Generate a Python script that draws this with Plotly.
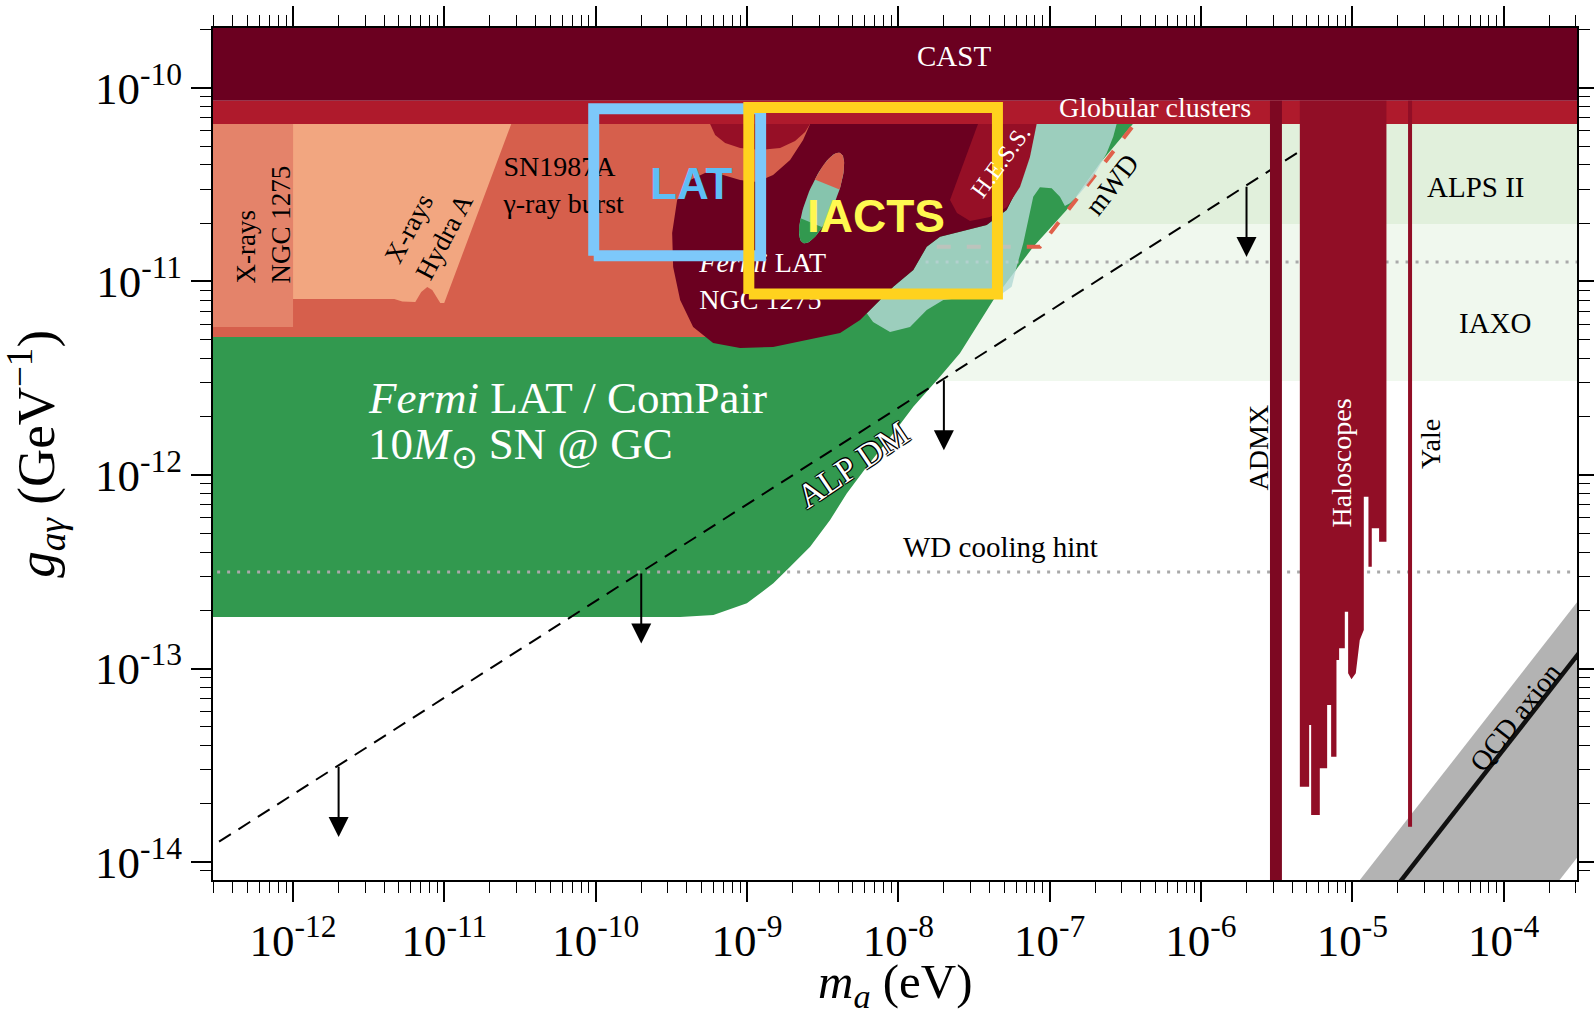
import numpy as np
import plotly.graph_objects as go

# ---------------------------------------------------------------------------
# Axis extent in decades: log10(m_a / eV) and log10(g_agamma / GeV^-1)
# ---------------------------------------------------------------------------
X_RANGE = [-12.529, -3.515]
Y_RANGE = [-14.093, -9.690]

X_DECADES = list(range(-12, -3))
Y_DECADES = list(range(-14, -9))

# ---------------------------------------------------------------------------
# Regions, all given as log10 values (mass, coupling)
# ---------------------------------------------------------------------------
FULL_LM = [-13.0, -3.0]
CAST_LG = [-10.066, -9.4]
GC_LG = [-10.186, -10.066]

SN1987A_LM = [-12.7, -8.58]
SN1987A_LG = [-11.287, -10.186]

XRAY_NGC1275_LM = [-12.7, -12.0]
XRAY_NGC1275_LG = [-11.235, -10.186]

HYDRA_LM = [-12.0, -10.558, -11.001, -11.027, -11.080, -11.113, -11.153,
            -11.192, -11.278, -11.331, -12.0]
HYDRA_LG = [-10.186, -10.186, -11.111, -11.111, -11.044, -11.028, -11.054,
            -11.106, -11.104, -11.090, -11.090]

ALPS_LM = [-8.0, -3.3]
ALPS_LG = [-10.703, -10.186]
IAXO_LM = [-8.6, -3.3]
IAXO_LG = [-11.514, -10.703]

# Fermi LAT / ComPair reach for a 10 M_sun supernova at the Galactic centre
COMPAIR_LM = [-12.7, -6.450, -6.668, -6.888, -7.108, -7.372, -7.593, -7.725,
              -7.901, -8.033, -8.209, -8.341, -8.451, -8.583, -8.715, -8.826,
              -9.001, -9.222, -9.442, -12.7]
COMPAIR_LG = [-10.186, -10.186, -10.389, -10.630, -10.820, -11.096, -11.371,
              -11.492, -11.647, -11.784, -11.957, -12.095, -12.233, -12.371,
              -12.474, -12.560, -12.663, -12.723, -12.734, -12.734]

# IACT projection (light teal)
TEAL_LM = [-7.0971, -6.5575, -6.5799, -6.6236, -6.7120, -6.7999, -6.8659,
           -6.8990, -6.9320, -6.9868, -7.0641, -7.1083, -7.1413, -7.1744,
           -7.2180, -7.2510, -7.3085, -7.5264, -7.7028, -7.8124, -7.9227,
           -8.0548, -8.1671, -8.2087, -8.0330, -7.9009, -7.8124, -7.7246,
           -7.5925, -7.4161, -7.2840, -7.1962, -7.1301, -7.0971]
TEAL_LG = [-10.186, -10.186, -10.2517, -10.3375, -10.4584, -10.5442,
           -10.5959, -10.6098, -10.5618, -10.5183, -10.5132, -10.5618,
           -10.6822, -10.8026, -10.9235, -11.0269, -11.0594, -11.0801,
           -11.0956, -11.1473, -11.2351, -11.2610, -11.2093, -11.1643,
           -11.0269, -10.9406, -10.8202, -10.7685, -10.7426, -10.7080,
           -10.6305, -10.4910, -10.3204, -10.186]

# Fermi LAT NGC 1275 exclusion
NGC1275_LM = [-8.5832, -7.0971, -7.1301, -7.1962, -7.2840, -7.4161, -7.5925,
              -7.7246, -7.8124, -7.9009, -8.0330, -8.2087, -8.2527, -8.3848,
              -8.6028, -8.8276, -9.0456, -9.2239, -9.3560, -9.4419, -9.4881,
              -9.4947, -9.4617, -9.3758, -9.2635, -9.1579, -9.0456, -8.9333,
              -8.8276, -8.7153, -8.6295, -8.5832]
NGC1275_LG = [-10.186, -10.186, -10.3204, -10.4910, -10.6305, -10.7080,
              -10.7426, -10.7685, -10.8202, -10.9406, -11.0269, -11.1643,
              -11.1990, -11.2661, -11.3023, -11.3385, -11.3437, -11.3178,
              -11.2351, -11.0956, -10.9251, -10.7494, -10.5788, -10.4755,
              -10.4341, -10.4496, -10.4755, -10.4858, -10.4496, -10.3721,
              -10.2687, -10.186]

# H.E.S.S. PKS 2155 exclusion
HESS_LM = [-7.4737, -7.0859, -7.1301, -7.1962, -7.2820, -7.3943, -7.5264,
           -7.6123, -7.6585, -7.4737]
HESS_LG = [-10.186, -10.186, -10.3566, -10.5116, -10.6150, -10.6667,
           -10.6873, -10.6460, -10.5788, -10.186]

# Small lobe below the globular-cluster bound
LOBE_LM = [-9.2437, -9.2107, -9.1447, -9.0456, -8.9135, -8.7814, -8.6823,
           -8.6163, -8.5832]
LOBE_LG = [-10.186, -10.2429, -10.2842, -10.3101, -10.3204, -10.3101,
           -10.2739, -10.2274, -10.186]

# Island inside the NGC 1275 region: centre and half-axes (log10 units)
ISLAND_CENTER = (-8.507, -10.5685)
ISLAND_MAJOR = (0.122, 0.2325)
ISLAND_MINOR = (0.0856, -0.0276)

# Magnetic white dwarf polarisation bound
MWD_LM = [-7.746, -7.064, -6.44]
MWD_LG = [-10.820, -10.820, -10.186]

# ALP dark-matter line and the masses where its arrows sit
ALPDM_LM = [-12.489, -5.339]
ALPDM_LG = [-13.895, -10.323]
ARROW_LM = [-11.699, -9.699, -7.699, -5.699]

# White-dwarf cooling hints
WD_HINT_LG = -12.501
WD_HINT_LM = [-12.7, -3.3]
UPPER_HINT_LG = -10.899
UPPER_HINT_LM = [-7.82, -3.3]

# Laboratory searches
ADMX_LM = [-5.544, -5.465]
ADMX_LG = [-14.5, -10.066]
YALE_LM = [-4.6315, -4.6051]
YALE_LG = [-13.818, -10.066]
HALO_LM = [-5.3467, -5.3467, -5.2851, -5.2851, -5.2719, -5.2719, -5.2147,
           -5.2147, -5.1662, -5.1662, -5.1398, -5.1398, -5.1046, -5.1046,
           -5.0870, -5.0870, -5.0495, -5.0495, -5.0275, -5.0275, -5.0055,
           -4.9769, -4.9505, -4.9240, -4.9240, -4.8932, -4.8932, -4.8712,
           -4.8712, -4.8228, -4.8228, -4.7743, -4.7743]
HALO_LG = [-10.066, -13.6107, -13.6107, -13.2920, -13.2920, -13.7571,
           -13.7571, -13.5159, -13.5159, -13.1886, -13.1886, -13.4556,
           -13.4556, -12.9561, -12.9561, -12.8958, -12.8958, -12.7063,
           -12.7063, -13.0250, -13.0560, -13.0250, -12.8527, -12.8010,
           -12.1120, -12.1120, -12.4737, -12.4737, -12.2756, -12.2756,
           -12.3445, -12.3445, -10.066]

# QCD axion band and benchmark line
QCD_BAND_LM = [-5.0, -3.3, -3.3, -5.0]
QCD_BAND_LG = [-14.143, -12.443, -13.763, -15.463]
QCD_LINE_LM = [-4.9, -3.3]
QCD_LINE_LG = [-14.318, -12.718]

# Highlight boxes
LAT_BOX_LM = [-10.013, -8.910]
LAT_BOX_LG = [-10.867, -10.107]
IACT_BOX_LM = [-8.988, -7.345]
IACT_BOX_LG = [-11.064, -10.101]

# ---------------------------------------------------------------------------
SERIF = "Liberation Serif"
SANS = "Liberation Sans"

C_CAST = "#6b0020"
C_GC = "#af1a2c"
C_SN = "#d65f4c"
C_XNGC = "#e4836a"
C_HYDRA = "#f2a680"
C_GREEN = "#32994f"
C_TEAL = "#b3d9d5"
C_BLOB = "#6b0020"
C_HESS = "#960f26"
C_HALO = "#910e26"
C_ADMX = "#7d0822"
C_ALPS = "#e1f0dc"
C_IAXO = "#f0f8ee"
C_QCD = "#b3b3b3"


def rect(lm, lg):
    return ([lm[0], lm[1], lm[1], lm[0], lm[0]],
            [lg[0], lg[0], lg[1], lg[1], lg[0]])


fig = go.Figure()


def area(lm, lg, color, opacity=1.0):
    fig.add_trace(go.Scatter(
        x=10.0 ** np.asarray(lm, float), y=10.0 ** np.asarray(lg, float),
        mode="lines", fill="toself", fillcolor=color, opacity=opacity,
        line=dict(width=0, color=color), hoverinfo="skip", showlegend=False))


def curve(lm, lg, color, width, dash="solid"):
    fig.add_trace(go.Scatter(
        x=10.0 ** np.asarray(lm, float), y=10.0 ** np.asarray(lg, float),
        mode="lines", line=dict(color=color, width=width, dash=dash),
        hoverinfo="skip", showlegend=False))


# Background bands for helioscope reach
area(*rect(IAXO_LM, IAXO_LG), C_IAXO)
area(*rect(ALPS_LM, ALPS_LG), C_ALPS)

# Fermi LAT / ComPair projection
area(COMPAIR_LM, COMPAIR_LG, C_GREEN)
curve(WD_HINT_LM, [WD_HINT_LG] * 2, "#a9a9a9", 3, "3px,7px")

# Astrophysical bounds
area(*rect(FULL_LM, CAST_LG), C_CAST)
area(*rect(FULL_LM, GC_LG), C_GC)
area(*rect(SN1987A_LM, SN1987A_LG), C_SN)
area(*rect(XRAY_NGC1275_LM, XRAY_NGC1275_LG), C_XNGC)
area(HYDRA_LM, HYDRA_LG, C_HYDRA)

curve(MWD_LM, MWD_LG, "#e0604a", 4, "14px,16px")
curve(UPPER_HINT_LM, [UPPER_HINT_LG] * 2, "#a9a9a9", 3, "3px,7px")

area(TEAL_LM, TEAL_LG, C_TEAL, opacity=0.82)
area(NGC1275_LM, NGC1275_LG, C_BLOB)
area(LOBE_LM, LOBE_LG, C_HESS)
area(HESS_LM, HESS_LG, C_HESS)

# Island inside the NGC 1275 region
t = np.linspace(0, 2 * np.pi, 90)
cx, cy = ISLAND_CENTER
ax_, ay_ = ISLAND_MAJOR
bx_, by_ = ISLAND_MINOR
area(cx + np.cos(t) * ax_ + np.sin(t) * bx_,
     cy + np.cos(t) * ay_ + np.sin(t) * by_, "#86c4ad")
a1 = np.arccos(0.30)
tt = np.linspace(-a1, a1, 40)
area(cx + np.cos(tt) * ax_ + np.sin(tt) * bx_,
     cy + np.cos(tt) * ay_ + np.sin(tt) * by_, C_SN)
a2 = np.arccos(0.55)
tt = np.linspace(np.pi - a2, np.pi + a2, 40)
area(cx + np.cos(tt) * ax_ + np.sin(tt) * bx_,
     cy + np.cos(tt) * ay_ + np.sin(tt) * by_, C_GREEN)

# ALP dark matter line
curve(ALPDM_LM, ALPDM_LG, "black", 2, "14px,9px")

# QCD axion band and line
area(QCD_BAND_LM, QCD_BAND_LG, C_QCD)
curve(QCD_LINE_LM, QCD_LINE_LG, "#111111", 4.5)

# Haloscopes
area(*rect(ADMX_LM, ADMX_LG), C_ADMX)
area(HALO_LM, HALO_LG, C_HALO)
area(*rect(YALE_LM, YALE_LG), C_HALO)

# Labels that sit beneath the highlight boxes
fig.add_trace(go.Scatter(
    x=[10.0 ** -10.61], y=[10.0 ** -10.514], mode="text",
    text=["SN1987A<br>γ-ray burst"], textposition="middle right",
    textfont=dict(family=SERIF, size=28, color="black"),
    hoverinfo="skip", showlegend=False))
fig.add_trace(go.Scatter(
    x=[10.0 ** -9.315], y=[10.0 ** -11.010], mode="text",
    text=["<i>Fermi</i> LAT<br>NGC 1275"], textposition="middle right",
    textfont=dict(family=SERIF, size=28, color="white"),
    hoverinfo="skip", showlegend=False))

# Highlight boxes
curve(*rect(LAT_BOX_LM, LAT_BOX_LG), "#7dc8fa", 11)
curve(*rect(IACT_BOX_LM, IACT_BOX_LG), "#ffd21e", 11)

# Empty trace that carries the top / right frame axes
fig.add_trace(go.Scatter(x=[], y=[], xaxis="x2", yaxis="y2",
                         hoverinfo="skip", showlegend=False))

annotations = []


def label(text, lm, lg, size=28, color="black", angle=0, family=SERIF,
          xanchor="center", align="center", shadow=None):
    font = dict(family=family, size=size, color=color)
    if shadow:
        font["shadow"] = shadow
    annotations.append(dict(
        x=lm, y=lg, xref="x", yref="y", text=text, showarrow=False,
        textangle=angle, font=font, xanchor=xanchor, yanchor="middle",
        align=align))


label("CAST", -7.635, -9.834, 29, "white")
label("Globular clusters", -6.305, -10.102, 28, "white")
label("X-rays<br>NGC 1275", -12.196, -10.703, 27, "black", -90, align="left")
label("X-rays<br>Hydra A", -11.106, -10.724, 27, "black", -62, align="left")
label("H.E.S.S.", -7.322, -10.377, 24, "white", -54)
label("mWD", -6.589, -10.501, 28, "black", -52)
label("ALPS II", -4.184, -10.512, 29)
label("IAXO", -4.052, -11.215, 29)
label("<i>Fermi</i> LAT / ComPair", -11.515, -11.600, 45, "white",
      xanchor="left", align="left")
label("10<i>M</i><sub>⊙</sub> SN @ GC", -11.515, -11.855, 45, "white",
      xanchor="left", align="left")
label("ALP DM", -8.298, -11.948, 34, "white", -34,
      shadow="1px 1px 0 #000, -1px -1px 0 #000, 1px -1px 0 #000, "
             "-1px 1px 0 #000, 0 0 2px #000")
label("WD cooling hint", -7.322, -12.372, 29)
label("ADMX", -5.620, -11.855, 28, "black", -90)
label("Haloscopes", -5.069, -11.936, 28, "white", -90)
label("Yale", -4.487, -11.840, 28, "black", -90)
label("QCD axion", -3.926, -13.251, 28, "black", -52)
label("<b>LAT</b>", -9.369, -10.491, 44, "#5ebef6", family=SANS)
label("<b>IACTS</b>", -8.147, -10.659, 46, "#fff850", family=SANS)

# Arrows hanging from the ALP DM line
for lm in ARROW_LM:
    lg_tail = float(np.interp(lm, ALPDM_LM, ALPDM_LG))
    annotations.append(dict(
        x=lm, y=lg_tail - 0.37, ax=lm, ay=lg_tail, xref="x", yref="y",
        axref="x", ayref="y", text="", showarrow=True, arrowhead=2,
        arrowsize=2.0, arrowwidth=2.0, arrowcolor="black"))

# Axis titles
annotations.append(dict(
    x=-0.130, y=0.5, xref="paper", yref="paper", showarrow=False,
    text="<i>g</i><sub><i>aγ</i></sub> (GeV<sup>−1</sup>)", textangle=-90,
    font=dict(family=SERIF, size=53, color="black"),
    xanchor="center", yanchor="middle"))
annotations.append(dict(
    x=0.5, y=-0.123, xref="paper", yref="paper", showarrow=False,
    text="<i>m</i><sub><i>a</i></sub> (eV)",
    font=dict(family=SERIF, size=49, color="black"),
    xanchor="center", yanchor="middle"))

tick_style = dict(
    type="log", showgrid=False, zeroline=False, showline=True,
    linecolor="black", linewidth=2, mirror=False, ticks="outside",
    ticklen=20, tickwidth=1.6, tickcolor="black", automargin=False,
    tickfont=dict(family=SERIF, size=45, color="black"),
    minor=dict(ticks="outside", ticklen=11, tickwidth=1.3, tickcolor="black",
               dtick="D1", showgrid=False),
)

x_ticks = dict(tickvals=[10.0 ** k for k in X_DECADES],
               ticktext=[f"10<sup>{k}</sup>" for k in X_DECADES])
y_ticks = dict(tickvals=[10.0 ** k for k in Y_DECADES],
               ticktext=[f"10<sup>{k}</sup>" for k in Y_DECADES])

fig.update_layout(
    width=1594, height=1017,
    margin=dict(l=213, r=17, t=28, b=137, autoexpand=False),
    paper_bgcolor="white", plot_bgcolor="white",
    showlegend=False,
    xaxis=dict(range=X_RANGE, **x_ticks, **tick_style),
    yaxis=dict(range=Y_RANGE, **y_ticks, **tick_style),
    xaxis2=dict(range=X_RANGE, overlaying="x", side="top", anchor="y",
                showticklabels=False, **x_ticks, **tick_style),
    yaxis2=dict(range=Y_RANGE, overlaying="y", side="right", anchor="x",
                showticklabels=False, **y_ticks, **tick_style),
    annotations=annotations,
)

fig.write_html("out.html")
